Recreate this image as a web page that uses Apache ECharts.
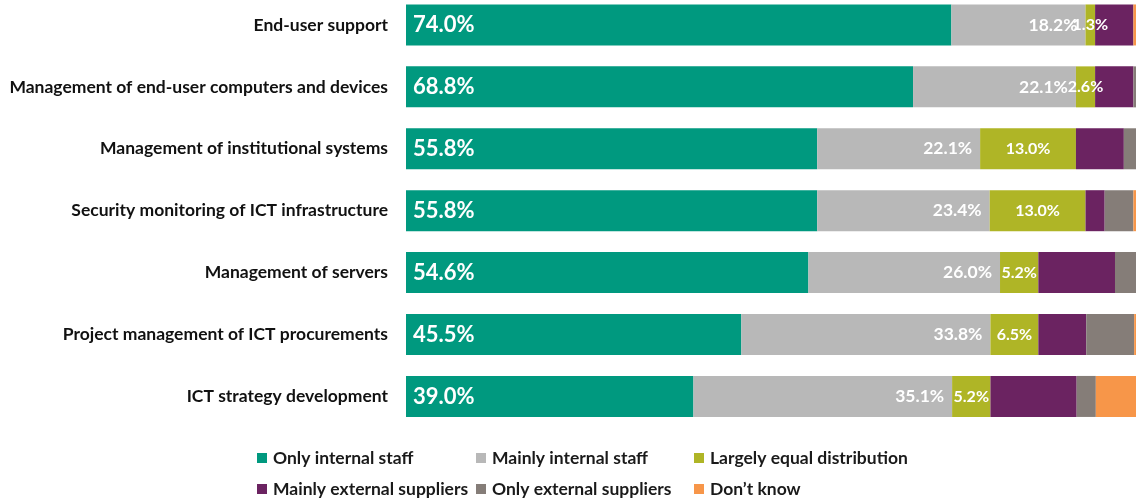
<!DOCTYPE html>
<html>
<head>
<meta charset="utf-8">
<script src="https://cdn.jsdelivr.net/npm/echarts@6/dist/echarts.min.js"></script>
<style>
  html, body { margin: 0; padding: 0; background: #ffffff; }
  #chart { width: 1136px; height: 500px; }
</style>
</head>
<body>
<div id="chart"></div>
<script>
// Who carries out each ICT task (share of respondents, %)
const categories = [
  'End-user support',
  'Management of end-user computers and devices',
  'Management of institutional systems',
  'Security monitoring of ICT infrastructure',
  'Management of servers',
  'Project management of ICT procurements',
  'ICT strategy development'
];
const onlyInternal      = [74.0, 68.8, 55.8, 55.8, 54.6, 45.5, 39.0];
const mainlyInternal    = [18.2, 22.1, 22.1, 23.4, 26.0, 33.8, 35.1];
const equalDistribution = [1.3, 2.6, 13.0, 13.0, 5.2, 6.5, 5.2];
const mainlyExternal    = [5.2, 5.2, 6.5, 2.6, 10.4, 6.5, 11.7];
const onlyExternal      = [0, 1.3, 2.6, 3.9, 3.9, 6.5, 2.6];
const dontKnow          = [1.3, 0, 0, 1.3, 0, 1.3, 6.5];

const FONT = 'Lato, "Open Sans", sans-serif';
const pct = p => p.value.toFixed(1) + '%';

const chart = echarts.init(document.getElementById('chart'));

function series(name, data, color, label) {
  return {
    name, type: 'bar', stack: 'total', data,
    barWidth: 41,
    itemStyle: { color },
    label: label || { show: false },
    emphasis: { disabled: true }
  };
}

const legendText = {
  fontFamily: FONT, fontWeight: 'bold', fontSize: 17.5, lineHeight: 20,
  color: '#1a1a1a', padding: [0, 0, 0, 1]
};
function legend(left, names) {
  return {
    orient: 'vertical', left, top: 448, height: 60,
    padding: 0,
    itemWidth: 10, itemHeight: 10, itemGap: 11,
    icon: 'rect', textStyle: legendText, data: names,
    selectedMode: false
  };
}

chart.setOption({
  animation: false,
  backgroundColor: '#ffffff',
  grid: {
    left: 406, top: -6, width: 737, height: 433.4,
    outerBoundsMode: 'none', containLabel: false
  },
  xAxis: { type: 'value', min: 0, max: 100, show: false },
  yAxis: {
    type: 'category', data: categories, inverse: true,
    axisLine: { show: false }, axisTick: { show: false },
    axisLabel: {
      margin: 18, fontFamily: FONT, fontWeight: 'bold', fontSize: 17.5, color: '#111'
    }
  },
  legend: [
    legend(257, ['Only internal staff', 'Mainly external suppliers']),
    legend(476, ['Mainly internal staff', 'Only external suppliers']),
    legend(694, ['Largely equal distribution', 'Don\u2019t know'])
  ],
  series: [
    series('Only internal staff', onlyInternal, '#00997F', {
      show: true, position: 'insideLeft', distance: 7, formatter: pct,
      color: '#fff', fontFamily: FONT, fontWeight: 'bold', fontSize: 22
    }),
    series('Mainly internal staff', mainlyInternal, '#B8B8B8', {
      show: true, position: 'insideRight', distance: 8, formatter: pct,
      color: '#fff', fontFamily: FONT, fontWeight: 'bold', fontSize: 17.5
    }),
    series('Largely equal distribution', equalDistribution, '#AFB526', {
      show: true, position: 'inside', formatter: pct,
      color: '#fff', fontFamily: FONT, fontWeight: 'bold', fontSize: 16
    }),
    series('Mainly external suppliers', mainlyExternal, '#6B2361'),
    series('Only external suppliers', onlyExternal, '#857D78'),
    series('Don\u2019t know', dontKnow, '#F79649')
  ]
});
</script>
</body>
</html>
